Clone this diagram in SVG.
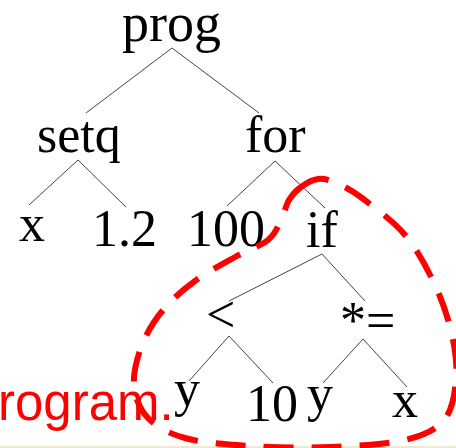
<svg xmlns="http://www.w3.org/2000/svg" width="456" height="448" viewBox="0 0 456 448">
<style>
.t{font-family:"Liberation Serif","Times New Roman",serif;font-size:52px;fill:#000}
.e{stroke:#444;stroke-width:1;fill:none}
.loop{fill:none;stroke:#ff0000;stroke-width:6;stroke-dasharray:30 18}
.lbl{font-family:"Liberation Sans",Arial,sans-serif;font-size:51px;fill:#ff0000}
</style>
<rect x="0" y="0" width="456" height="448" fill="#fff"/>
<rect x="0" y="446" width="456" height="2" fill="#efe9d2"/>
<g id="connectors">
<line class="e" x1="172" y1="48" x2="86" y2="113"/>
<line class="e" x1="172" y1="48" x2="259" y2="113"/>
<line class="e" x1="78" y1="160" x2="29" y2="205"/>
<line class="e" x1="78" y1="160" x2="126" y2="207"/>
<line class="e" x1="275" y1="161" x2="227" y2="206"/>
<line class="e" x1="275" y1="161" x2="325" y2="208"/>
<line class="e" x1="322" y1="254" x2="229" y2="301"/>
<line class="e" x1="322" y1="254" x2="365" y2="301"/>
<line class="e" x1="229" y1="336" x2="189" y2="381"/>
<line class="e" x1="229" y1="336" x2="273" y2="383"/>
<line class="e" x1="363" y1="339" x2="323" y2="383"/>
<line class="e" x1="363" y1="339" x2="407" y2="387"/>
</g>
<g id="n-prog"><text class="t" x="122" y="41" style="font-size:54px">prog</text></g>
<g id="n-setq"><text class="t" x="37" y="152">setq</text></g>
<g id="n-for"><text class="t" x="245" y="152">for</text></g>
<g id="n-x1"><text class="t" x="19" y="241">x</text></g>
<g id="n-12"><text class="t" x="92" y="246">1.2</text></g>
<g id="n-100"><text class="t" x="187" y="246">100</text></g>
<g id="n-if"><text class="t" x="306" y="247">if</text></g>
<g id="n-lt"><text class="t" x="206" y="332">&lt;</text></g>
<g id="n-muleq"><text class="t" x="340" y="338">*=</text></g>
<g id="n-y1"><text class="t" x="174" y="406">y</text></g>
<g id="n-10"><text class="t" x="246" y="421">10</text></g>
<g id="n-y2"><text class="t" x="307" y="411">y</text></g>
<g id="n-x2"><text class="t" x="392" y="417">x</text></g>
<g id="highlight">
<path class="loop" d="M301,187 C305.8,183.5 312.2,179.7 318,179 C323.8,178.3 328.7,179.8 336,183 C343.3,186.2 350.5,189.3 362,198 C373.5,206.7 392.8,220.5 405,235 C417.2,249.5 427.2,268.3 435,285 C442.8,301.7 448.5,319.2 452,335 C455.5,350.8 457.3,365.8 456,380 C454.7,394.2 452.5,410 444,420 C435.5,430 424,435.5 405,440 C386,444.5 355.8,446 330,447 C304.2,448 274.2,447.5 250,446 C225.8,444.5 202,442.7 185,438 C168,433.3 156.5,426.8 148,418 C139.5,409.2 135,397.2 134,385 C133,372.8 137.2,357.5 142,345 C146.8,332.5 154.2,320.7 163,310 C171.8,299.3 183,289.8 195,281 C207,272.2 222.8,263.8 235,257 C247.2,250.2 260.3,246.2 268,240 C275.7,233.8 277.5,226.7 281,220 C284.5,213.3 285.7,205.5 289,200 C292.3,194.5 296.2,190.5 301,187"/>
</g>
<text class="lbl" x="-2" y="420">rogram.</text>
</svg>
